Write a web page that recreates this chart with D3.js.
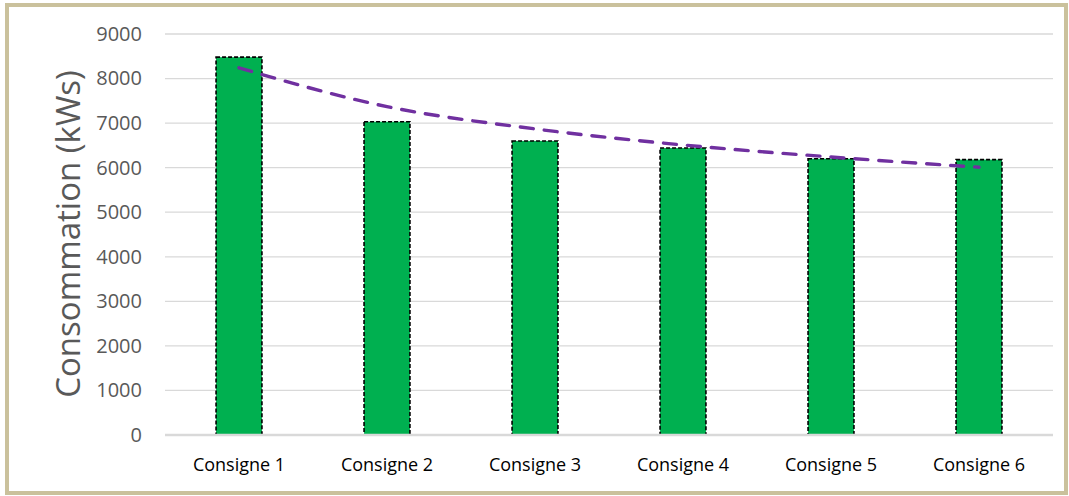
<!DOCTYPE html>
<html>
<head>
<meta charset="utf-8">
<script src="https://d3js.org/d3.v7.min.js"></script>
<style>
  body { margin: 0; background: #fff; }
  svg text { font-family: "Open Sans", sans-serif; }
</style>
</head>
<body>
<script>
// chart values
var categories = ["Consigne 1", "Consigne 2", "Consigne 3", "Consigne 4", "Consigne 5", "Consigne 6"];
var consumption = [8480, 7030, 6600, 6440, 6200, 6180];
var trend = [8240, 7370, 6870, 6510, 6240, 6010];
var yTicks = [0, 1000, 2000, 3000, 4000, 5000, 6000, 7000, 8000, 9000];

var width = 1069, height = 496;
var plotLeft = 165, plotRight = 1053, plotTop = 34, plotBottom = 435;

var svg = d3.select("body").append("svg")
    .attr("width", width)
    .attr("height", height);

// outer frame
svg.append("rect")
    .attr("x", 7).attr("y", 5)
    .attr("width", 1059).attr("height", 488)
    .attr("fill", "#fff")
    .attr("stroke", "#cac19c")
    .attr("stroke-width", 4);

var x = d3.scaleBand().domain(categories).range([plotLeft, plotRight]).paddingInner(0.69).paddingOuter(0.345);
var y = d3.scaleLinear().domain([0, 9000]).range([plotBottom, plotTop]);

// gridlines
svg.append("g").selectAll("line")
    .data(yTicks.filter(function(d) { return d > 0; }))
    .enter().append("line")
      .attr("x1", plotLeft).attr("x2", plotRight)
      .attr("y1", function(d) { return y(d); })
      .attr("y2", function(d) { return y(d); })
      .attr("stroke", "#d9d9d9")
      .attr("stroke-width", 1.3);

// y axis labels
var yAxis = d3.axisLeft(y).tickValues(yTicks).tickFormat(d3.format("d")).tickSize(0).tickPadding(23);
var gy = svg.append("g").attr("transform", "translate(" + plotLeft + ",0)").call(yAxis);
gy.select(".domain").remove();
gy.selectAll("text")
    .attr("font-size", 20)
    .attr("fill", "#595959")
    .style("font-family", "'Open Sans', sans-serif");

// bars
svg.append("g").selectAll("rect")
    .data(consumption)
    .enter().append("rect")
      .attr("x", function(d, i) { return x(categories[i]); })
      .attr("y", function(d) { return y(d); })
      .attr("width", x.bandwidth())
      .attr("height", function(d) { return plotBottom - y(d); })
      .attr("fill", "#00b050")
      .attr("stroke", "#000")
      .attr("stroke-width", 1.6)
      .attr("stroke-dasharray", "4,2");

// baseline
svg.append("line")
    .attr("x1", plotLeft).attr("x2", plotRight)
    .attr("y1", plotBottom).attr("y2", plotBottom)
    .attr("stroke", "#d9d9d9")
    .attr("stroke-width", 2.5);

// x axis labels
var xAxis = d3.axisBottom(x).tickSize(0).tickPadding(23);
var gx = svg.append("g").attr("transform", "translate(0," + plotBottom + ")").call(xAxis);
gx.select(".domain").remove();
gx.selectAll("text")
    .attr("font-size", 18)
    .attr("fill", "#000")
    .style("font-family", "'Open Sans', sans-serif");

// trend line
var line = d3.line()
    .x(function(d, i) { return x(categories[i]) + x.bandwidth() / 2; })
    .y(function(d) { return y(d); })
    .curve(d3.curveMonotoneX);

svg.append("path")
    .datum(trend)
    .attr("d", line)
    .attr("fill", "none")
    .attr("stroke", "#7030a0")
    .attr("stroke-width", 3.4)
    .attr("stroke-linecap", "round")
    .attr("stroke-dasharray", "13,11");

// y title
svg.append("text")
    .attr("transform", "translate(80,234) rotate(-90)")
    .attr("text-anchor", "middle")
    .attr("font-size", 33)
    .attr("fill", "#595959")
    .text("Consommation (kWs)");
</script>
</body>
</html>
